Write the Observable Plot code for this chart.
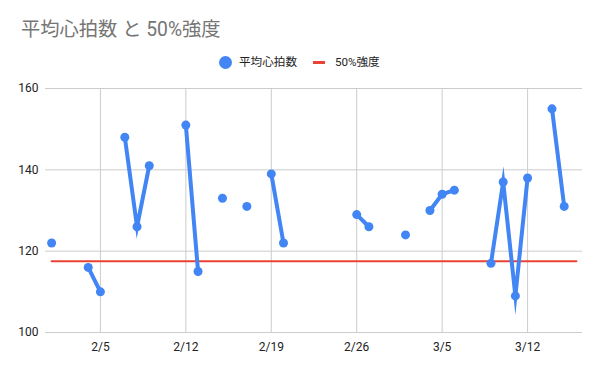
<!DOCTYPE html>
<html><head><meta charset="utf-8">
<script src="https://cdn.jsdelivr.net/npm/d3@7"></script>
<script src="https://cdn.jsdelivr.net/npm/@observablehq/plot@0.6"></script>
<style>
body{margin:0;background:#fff;font-family:Roboto,"Noto Sans CJK JP",sans-serif;}
#wrap{width:600px;}
#head{position:relative;height:75px;}
#title{position:absolute;left:21px;top:18px;font-size:19.3px;line-height:24px;color:#757575;white-space:nowrap;}
.li{position:absolute;white-space:nowrap;font-size:11.6px;line-height:14px;color:#222;}
svg{display:block;}
</style></head>
<body>
<div id="wrap">
<div id="head">
<div id="title">平均心拍数 と 50%強度</div>
<span class="li" style="left:218.5px;top:55.5px;width:13px;height:13px;border-radius:6.5px;background:#4285F4;"></span>
<span class="li" style="left:239px;top:55px;">平均心拍数</span>
<span class="li" style="left:313px;top:60.5px;width:12px;height:3.5px;background:#EA4335;"></span>
<span class="li" style="left:335px;top:55px;">50%強度</span>
</div>
<div id="chart"></div>
</div>
<script>
const year = 2023;
const days = ["2/1","2/2","2/3","2/4","2/5","2/6","2/7","2/8","2/9","2/10","2/11","2/12","2/13","2/14","2/15","2/16","2/17","2/18","2/19","2/20","2/21","2/22","2/23","2/24","2/25","2/26","2/27","2/28","3/1","3/2","3/3","3/4","3/5","3/6","3/7","3/8","3/9","3/10","3/11","3/12","3/13","3/14","3/15","3/16"];
const heartRate = [122,null,null,116,110,null,148,126,141,null,null,151,115,null,133,null,131,null,139,122,null,null,null,null,null,129,126,null,null,124,null,130,134,135,null,null,117,137,109,138,null,155,131,null];
const intensity50 = 117.5;
const xTicks = ["2/5","2/12","2/19","2/26","3/5","3/12"];
const yTicks = [100,120,140,160];

const toDate = s => { const [m,d] = s.split("/").map(Number); return new Date(Date.UTC(year, m-1, d)); };
const table = days.map((s,i) => ({date: toDate(s), hr: heartRate[i] == null ? NaN : heartRate[i], th: intensity50}));
const fmt = d => `${d.getUTCMonth()+1}/${d.getUTCDate()}`;

const chart = Plot.plot({
  width: 600,
  height: 296,
  marginTop: 13,
  marginBottom: 39,
  marginLeft: 45,
  marginRight: 18,
  style: {fontFamily: 'Roboto,"Noto Sans CJK JP",sans-serif', fontSize: "12px", color: "#444"},
  x: {type: "utc", domain: [new Date(Date.UTC(year,0,31,12)), new Date(Date.UTC(year,2,16,12))], label: null},
  y: {domain: [100,160], label: null},
  marks: [
    Plot.gridY(yTicks, {stroke: "#cccccc", strokeOpacity: 1}),
    Plot.gridX(xTicks.map(toDate), {stroke: "#cccccc", strokeOpacity: 1}),
    Plot.axisY(yTicks, {tickSize: 0, tickPadding: 7, fill: "#222", fontSize: 12}),
    Plot.axisX(xTicks.map(toDate), {tickSize: 0, tickPadding: 10, tickFormat: fmt, fill: "#222", fontSize: 12}),
    Plot.line(table, {x: "date", y: "th", stroke: "#EA4335", strokeWidth: 2}),
    Plot.line(table, {x: "date", y: "hr", stroke: "#4285F4", strokeWidth: 4, strokeLinejoin: "miter", strokeMiterlimit: 10}),
    Plot.dot(table.filter(d => !isNaN(d.hr)), {x: "date", y: "hr", r: 4.5, fill: "#4285F4", stroke: "none"})
  ]
});
document.getElementById("chart").appendChild(chart);
</script>
</body></html>
